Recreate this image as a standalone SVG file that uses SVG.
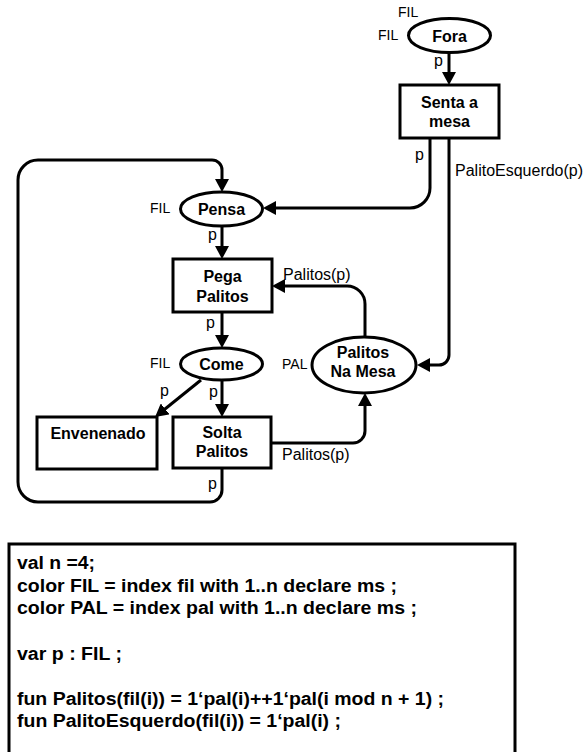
<svg xmlns="http://www.w3.org/2000/svg" width="583" height="752" viewBox="0 0 583 752">
  <style>
    .node { fill: #fff; stroke: #000; stroke-width: 3; }
    .arc { fill: none; stroke: #000; stroke-width: 3; }
    .name { font-family: "Liberation Sans", Arial, sans-serif; font-size: 16px; font-weight: bold; text-anchor: middle; fill: #000; }
    .lbl { font-family: "Liberation Sans", Arial, sans-serif; font-size: 16px; fill: #000; }
    .cs { font-family: "Liberation Sans", Arial, sans-serif; font-size: 14px; fill: #000; }
    .decl { font-family: "Liberation Sans", Arial, sans-serif; font-size: 18px; font-weight: bold; fill: #000; }
  </style>
  <defs>
    <marker id="head" markerUnits="userSpaceOnUse" markerWidth="14" markerHeight="14" refX="1" refY="7" orient="auto">
      <path d="M0,0 L13,7 L0,14 Z" fill="#000"/>
    </marker>
  </defs>
  <rect width="583" height="752" fill="#fff"/>

  <!-- arcs -->
  <g id="arcs" class="arc" marker-end="url(#head)">
    <path d="M449,53 V73"/>
    <path d="M430,138 V188 A20,20 0 0 1 410,208 H275"/>
    <path d="M449,138 V355 A10,10 0 0 1 439,365 H429"/>
    <path d="M222,226 V247"/>
    <path d="M365,337 V304 A18,18 0 0 0 347,286 H284"/>
    <path d="M222,312 V336"/>
    <path d="M222,380 V405"/>
    <path d="M201,380 L164.4,409.5"/>
    <path d="M271,443 H353 A12,12 0 0 0 365,431 V405"/>
    <path d="M222,468 V490 A12,12 0 0 1 210,502 H38 A20,20 0 0 1 18,482 V180 A20,20 0 0 1 38,160 H212 A10,10 0 0 1 222,170 V180"/>
  </g>

  <!-- arc inscriptions -->
  <g id="arc-labels" class="lbl">
    <text x="434" y="66">p</text>
    <text x="415" y="160">p</text>
    <text x="455" y="176">PalitoEsquerdo(p)</text>
    <text x="208" y="240">p</text>
    <text x="283" y="280">Palitos(p)</text>
    <text x="206" y="328">p</text>
    <text x="209" y="397">p</text>
    <text x="160" y="396">p</text>
    <text x="282" y="460">Palitos(p)</text>
    <text x="208" y="489">p</text>
  </g>

  <!-- places -->
  <g id="fora">
    <ellipse class="node" cx="449.5" cy="35.5" rx="41" ry="17"/>
    <text class="name" x="449.5" y="41.5">Fora</text>
    <text class="cs" x="398" y="17">FIL</text>
    <text class="cs" x="378" y="40">FIL</text>
  </g>
  <g id="pensa">
    <ellipse class="node" cx="221.5" cy="209" rx="41" ry="17"/>
    <text class="name" x="221.5" y="214.5">Pensa</text>
    <text class="cs" x="150" y="213">FIL</text>
  </g>
  <g id="come">
    <ellipse class="node" cx="221.5" cy="364" rx="41" ry="16"/>
    <text class="name" x="221.5" y="369.5">Come</text>
    <text class="cs" x="150" y="368">FIL</text>
  </g>
  <g id="palitos-na-mesa">
    <ellipse class="node" cx="364" cy="365" rx="52" ry="28"/>
    <text class="name" x="363" y="358">Palitos</text>
    <text class="name" x="363" y="377">Na Mesa</text>
    <text class="cs" x="282" y="369">PAL</text>
  </g>

  <!-- transitions -->
  <g id="senta-a-mesa">
    <rect class="node" x="400" y="85" width="99" height="53"/>
    <text class="name" x="449.5" y="108">Senta a</text>
    <text class="name" x="449.5" y="127">mesa</text>
  </g>
  <g id="pega-palitos">
    <rect class="node" x="173" y="259" width="99" height="53"/>
    <text class="name" x="222.5" y="282">Pega</text>
    <text class="name" x="222.5" y="302">Palitos</text>
  </g>
  <g id="envenenado">
    <rect class="node" x="37" y="417" width="120" height="52"/>
    <text class="name" x="98" y="439">Envenenado</text>
  </g>
  <g id="solta-palitos">
    <rect class="node" x="173" y="417" width="98" height="51"/>
    <text class="name" x="222" y="438">Solta</text>
    <text class="name" x="222" y="457">Palitos</text>
  </g>

  <!-- declarations -->
  <g id="declarations">
    <rect class="node" x="9" y="544" width="506" height="220"/>
    <text class="decl" x="17" y="569" textLength="78" lengthAdjust="spacingAndGlyphs">val n =4;</text>
    <text class="decl" x="17" y="591.5" textLength="380" lengthAdjust="spacingAndGlyphs">color FIL = index fil with 1..n declare ms ;</text>
    <text class="decl" x="17" y="614" textLength="400" lengthAdjust="spacingAndGlyphs">color PAL = index pal with 1..n declare ms ;</text>
    <text class="decl" x="17" y="660" textLength="105" lengthAdjust="spacingAndGlyphs">var p : FIL ;</text>
    <text class="decl" x="17" y="705" textLength="427" lengthAdjust="spacingAndGlyphs">fun Palitos(fil(i)) = 1‘pal(i)++1‘pal(i mod n + 1) ;</text>
    <text class="decl" x="17" y="727" textLength="324" lengthAdjust="spacingAndGlyphs">fun PalitoEsquerdo(fil(i)) = 1‘pal(i) ;</text>
  </g>
</svg>
